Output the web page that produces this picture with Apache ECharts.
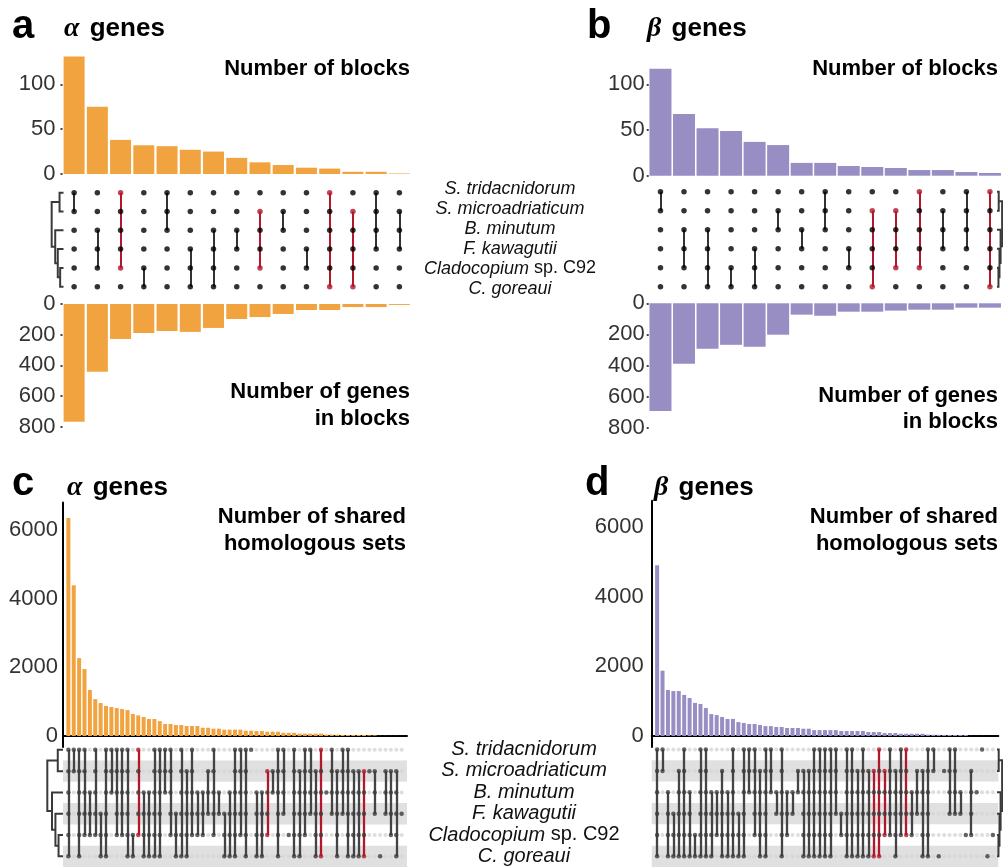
<!DOCTYPE html>
<html>
<head>
<meta charset="utf-8">
<script src="https://cdn.jsdelivr.net/npm/echarts/dist/echarts.min.js"></script>
<style>
  html, body { margin: 0; padding: 0; background: #fff; }
  #chart { width: 1003px; height: 867px; }
</style>
</head>
<body>
<div id="chart"></div>
<script>
// ---- data ----
const species = ['S. tridacnidorum', 'S. microadriaticum', 'B. minutum', 'F. kawagutii', 'Cladocopium sp. C92', 'C. goreaui'];

// a: alpha genes, syntenic blocks (row range of each intersection, 1 = top species)
const alphaBlocks = [131, 75, 38, 32, 31, 27, 25, 18, 13, 10, 7, 6, 2.5, 2.5, 0.6];
const alphaGenes = [767, 441, 228, 189, 176, 182, 156, 98, 85, 65, 39, 39, 20, 20, 6];
const alphaBlockSets = ['1-2', '3-5', '1-5', '5-6', '1-3', '4-6', '3-6', '3-4', '2-5', '2-3', '4-5', '1-6', '2-6', '1-4', '2-4'];
const alphaBlockRed = [2, 8, 11, 12];

// b: beta genes, syntenic blocks
const betaBlocks = [117, 67.5, 52, 49, 37, 33.5, 14, 14, 10.6, 9.5, 8.4, 6.2, 6.2, 4, 3];
const betaGenes = [692, 389, 292, 267, 280, 202, 73, 80, 54, 54, 47, 41, 41, 28, 28];
const betaBlockSets = ['1-2', '3-5', '3-6', '5-6', '4-6', '2-3', '3-4', '1-3', '4-5', '2-6', '2-5', '1-5', '2-4', '1-4', '1-6'];
const betaBlockRed = [9, 10, 11, 14];

// c: alpha genes, shared homologous sets
const alphaShared = [6350, 4390, 2270, 1950, 1340, 1075, 960, 875, 845, 815,
  785, 755, 640, 600, 555, 495, 495, 435, 350, 350,
  320, 320, 290, 290, 290, 240, 240, 215, 215, 185,
  185, 185, 185, 155, 155, 145, 145, 125, 125, 125,
  95, 95, 95, 70, 70, 70, 70, 70, 40, 40,
  40, 30, 30, 30, 30, 30, 20, 20, 4, 4, 3, 3, 2];
const alphaSharedSets = ['1-6', '1-2', '1-6', '1-5', '3-5', '1-5', '4-6', '1-6', '1-3', '1-5',
  '1-5', '1-6', '5-6', '1-5', '3-6', '3-6', '1-6', '1-6', '1-3', '1-5',
  '4-6', '1-6', '2-6', '1-5', '3-5', '3-5', '2-4', '1-5', '3-4', '4-6',
  '3-6', '1-6', '1-5', '1-6', '1-1', '3-6', '3-6', '2-5', '2-3', '1-6',
  '1-4', '5-5', '1-6', '2-6', '1-5', '1-4', '2-6', '1-6', '3-3', '1-4',
  '2-6', '1-4', '1-6', '2-6', '2-6', '2-6', '2-2', '2-4', '6-6', '2-4',
  '2-5', '2-6', '4-4'];
const alphaSharedRed = [13, 37, 47, 55];

// d: beta genes, shared homologous sets
const betaShared = [4900, 1875, 1320, 1290, 1290, 1180, 1090, 950, 920, 805,
  630, 600, 545, 490, 490, 400, 375, 345, 345, 315,
  285, 285, 260, 260, 230, 230, 230, 210, 210, 170,
  170, 170, 170, 170, 145, 145, 145, 145, 145, 115,
  115, 115, 85, 85, 85, 65, 65, 65, 65, 65,
  40, 35, 35, 30, 30, 30, 30, 30, 4, 3, 3, 2, 2];
const betaSharedSets = ['1-6', '1-2', '3-6', '4-6', '2-6', '1-6', '3-6', '5-6', '1-6', '1-6',
  '3-6', '3-5', '2-6', '3-6', '1-6', '4-6', '1-6', '1-3', '1-5', '2-6',
  '1-6', '1-3', '3-4', '1-6', '3-5', '3-4', '2-3', '2-6', '2-6', '1-6',
  '1-6', '1-6', '1-6', '1-4', '4-5', '1-6', '1-6', '2-6', '1-6', '2-6',
  '2-6', '1-6', '2-5', '1-5', '2-6', '1-5', '1-5', '3-5', '2-4', '2-6',
  '1-6', '1-2', '6-6', '2-2', '1-4', '1-4', '3-4', '5-5', '2-5', '3-3',
  '1-1', '6-6', '5-5'];
const betaSharedRed = [40, 41, 42, 46];

// species tree: merge heights of the internal nodes, leaves are row numbers
const speciesTree = { h: 3, kids: [{ h: 1, kids: [1, 2] }, { h: 2.1, kids: [3, { h: 1.45, kids: [4, { h: 0.85, kids: [5, 6] }] }] }] };

// ---- styling ----
const FONT = '"Liberation Sans", Arial, Helvetica, sans-serif';
const ORANGE = '#f1a340';
const PURPLE = '#998ec3';
const RED = '#b2182b';

const grids = [], xAxes = [], yAxes = [], series = [];

function addGrid(rect, xAxis, yAxis) {
  const g = grids.length;
  grids.push(rect);
  xAxes.push(Object.assign({ gridIndex: g, type: 'value', show: false, splitLine: { show: false } }, xAxis));
  yAxes.push(Object.assign({ gridIndex: g, type: 'value', show: false, splitLine: { show: false } }, yAxis));
  return g;
}

function tickLabels(margin, hide) {
  return {
    show: true, fontSize: 22, color: '#333', fontFamily: FONT, margin: margin,
    formatter: v => (v === hide ? '' : String(v))
  };
}

function countAxis(max, interval, inverse, margin) {
  return {
    show: true, min: 0, max: max, interval: interval, inverse: inverse,
    axisLine: { show: false, onZero: false },
    axisTick: { show: true, length: 2, lineStyle: { color: '#444', width: 2 } },
    axisLabel: Object.assign(tickLabels(margin, max % interval ? max : null), { showMaxLabel: max % interval === 0 })
  };
}

function addBars(g, vals, color, width) {
  series.push({
    type: 'bar', xAxisIndex: g, yAxisIndex: g, silent: true,
    barWidth: width, itemStyle: { color: color },
    data: vals.map((v, i) => [i, v])
  });
}

function addMatrix(g, sets, red, st) {
  const on = [], off = [], segs = [];
  sets.forEach((s, i) => {
    const [t, b] = s.split('-').map(Number);
    const hot = red.includes(i);
    for (let r = 1; r <= 6; r++) {
      if (r >= t && r <= b) {
        on.push({ value: [i, r], itemStyle: { color: hot && (r === t || r === b) ? RED : st.dot } });
      } else {
        off.push([i, r]);
      }
    }
    if (b > t) segs.push({ coords: [[i, t], [i, b]], lineStyle: { color: hot ? RED : st.line } });
  });
  if (st.bands) {
    series.push({
      type: 'line', xAxisIndex: g, yAxisIndex: g, data: [], silent: true,
      markArea: {
        silent: true, itemStyle: { color: '#e0e0e0' },
        data: [2, 4, 6].map(r => [{ xAxis: -1, yAxis: r - 0.5 }, { xAxis: sets.length, yAxis: r + 0.5 }])
      }
    });
  }
  series.push({ type: 'scatter', xAxisIndex: g, yAxisIndex: g, z: 2, silent: true, symbolSize: st.offSize, itemStyle: { color: st.off }, data: off });
  series.push({ type: 'lines', coordinateSystem: 'cartesian2d', xAxisIndex: g, yAxisIndex: g, z: 3, silent: true, lineStyle: { width: st.lw, opacity: 1 }, data: segs });
  series.push({ type: 'scatter', xAxisIndex: g, yAxisIndex: g, z: 4, silent: true, symbolSize: st.size, data: on });
}

function treeLines(node, out) {
  if (typeof node === 'number') return { y: node, h: 0 };
  const [a, b] = node.kids.map(k => treeLines(k, out));
  out.push({ coords: [[a.h, a.y], [node.h, a.y], [node.h, b.y], [b.h, b.y]] });
  return { y: (a.y + b.y) / 2, h: node.h };
}

function addTree(rect, flip) {
  const g = addGrid(rect, { min: 0, max: 3.5, inverse: flip }, { min: 0.5, max: 6.5, inverse: true });
  const segs = [];
  treeLines(speciesTree, segs);
  series.push({
    type: 'lines', coordinateSystem: 'cartesian2d', polyline: true, xAxisIndex: g, yAxisIndex: g, silent: true,
    lineStyle: { color: '#3a3a3a', width: 2, opacity: 1 }, data: segs
  });
}

function addSpeciesLabels(rect, size) {
  addGrid(rect, {}, {
    show: true, type: 'category', data: species, inverse: true,
    axisLine: { show: false, onZero: false }, axisTick: { show: false },
    axisLabel: {
      interval: 0, align: 'center', margin: 0, fontSize: size, fontFamily: FONT, color: '#111',
      formatter: v => v.indexOf(' sp. ') > 0 ? '{i|' + v.split(' sp. ')[0] + '}{n| sp. ' + v.split(' sp. ')[1] + '}' : '{i|' + v + '}',
      rich: {
        i: { fontStyle: 'italic', fontSize: size, fontFamily: FONT, color: '#111' },
        n: { fontSize: size, fontFamily: FONT, color: '#111' }
      }
    }
  });
}

const blockDots = { dot: '#000', line: '#333', off: '#000', offSize: 5.5, size: 5.5, lw: 2, bands: false };
const sharedDots = { dot: '#3c3c3c', line: '#444', off: '#d6d6d6', offSize: 4, size: 4.5, lw: 2.3, bands: true };

// ---- panel a ----
let g = addGrid({ left: 62.5, width: 348.5, top: 48.4, height: 125.6 }, { min: -0.5, max: 14.5 }, countAxis(140, 50, false, 7));
addBars(g, alphaBlocks, ORANGE, 21);
g = addGrid({ left: 62.5, width: 348.5, top: 183.3, height: 112.8 }, { min: -0.5, max: 14.5 }, { min: 0.5, max: 6.5, inverse: true });
addMatrix(g, alphaBlockSets, alphaBlockRed, blockDots);
addTree({ left: 49.7, width: 13.8, top: 183.3, height: 112.8 }, true);
g = addGrid({ left: 62.5, width: 348.5, top: 304, height: 122.7 }, { min: -0.5, max: 14.5 }, countAxis(800, 200, true, 7));
addBars(g, alphaGenes, ORANGE, 21);

// ---- panel b ----
g = addGrid({ left: 648.7, width: 353, top: 47.7, height: 128 }, { min: -0.5, max: 14.5 }, countAxis(140, 50, false, 4));
addBars(g, betaBlocks, PURPLE, 22);
g = addGrid({ left: 648.7, width: 353, top: 182.2, height: 114 }, { min: -0.5, max: 14.5 }, { min: 0.5, max: 6.5, inverse: true });
addMatrix(g, betaBlockSets, betaBlockRed, blockDots);
addTree({ left: 997, width: 13.3, top: 182.2, height: 114 }, false);
g = addGrid({ left: 648.7, width: 353, top: 303.3, height: 124.4 }, { min: -0.5, max: 14.5 }, countAxis(800, 200, true, 4));
addBars(g, betaGenes, PURPLE, 22);

addSpeciesLabels({ left: 510, width: 1, top: 178.5, height: 120 }, 18);

// ---- panel c ----
const sharedLabels = (margin) => Object.assign(tickLabels(margin, null), { customValues: [0, 2000, 4000, 6000] });
g = addGrid({ left: 63, width: 344, top: 502.6, height: 244.4 },
  { show: true, min: -1, max: alphaShared.length, axisLine: { show: true, onZero: true, lineStyle: { color: '#000', width: 2 } },
    axisTick: { show: false }, axisLabel: { show: false } },
  { show: true, min: -320, max: 6800, axisLine: { show: true, onZero: false, lineStyle: { color: '#000', width: 2 } },
    axisTick: { show: false }, axisLabel: sharedLabels(5) });
addBars(g, alphaShared, ORANGE, 4);
g = addGrid({ left: 63, width: 344, top: 739.2, height: 129.6 }, { min: -1, max: alphaSharedSets.length }, { min: 0.5, max: 6.5, inverse: true });
addMatrix(g, alphaSharedSets, alphaSharedRed, sharedDots);
addTree({ left: 44.7, width: 18.3, top: 739.2, height: 129.6 }, true);

// ---- panel d ----
g = addGrid({ left: 651.7, width: 346.6, top: 500.7, height: 246.3 },
  { show: true, min: -1, max: betaShared.length, axisLine: { show: true, onZero: true, lineStyle: { color: '#000', width: 2 } },
    axisTick: { show: false }, axisLabel: { show: false } },
  { show: true, min: -315, max: 6750, axisLine: { show: true, onZero: false, lineStyle: { color: '#000', width: 2 } },
    axisTick: { show: false }, axisLabel: sharedLabels(8) });
addBars(g, betaShared, PURPLE, 4);
g = addGrid({ left: 651.7, width: 346.6, top: 738.9, height: 130.2 }, { min: -1, max: betaSharedSets.length }, { min: 0.5, max: 6.5, inverse: true });
addMatrix(g, betaSharedSets, betaSharedRed, sharedDots);
addTree({ left: 997, width: 13.3, top: 738.9, height: 130.2 }, false);

addSpeciesLabels({ left: 524, width: 1, top: 738.9, height: 130 }, 20);

// ---- text ----
function txt(s, x, y, size, align, extra) {
  return {
    type: 'text', silent: true,
    style: Object.assign({ text: s, x: x, y: y, fill: '#000', fontSize: size, fontWeight: 'bold', fontFamily: FONT, align: align, verticalAlign: 'middle' }, extra || {})
  };
}
const greek = { g: { fontFamily: '"Liberation Serif", "Times New Roman", serif', fontStyle: 'italic', fontWeight: 'bold', fontSize: 28, fill: '#000', padding: [0, 3, 0, 0] } };

const graphics = [
  txt('a', 12, 27, 40, 'left'),
  txt('b', 587, 27, 40, 'left'),
  txt('c', 12, 484, 40, 'left'),
  txt('d', 585, 484, 40, 'left'),
  txt('{g|α} genes', 64, 29, 26, 'left', { rich: greek }),
  txt('{g|β} genes', 647, 29, 26, 'left', { rich: greek }),
  txt('{g|α} genes', 67, 488, 26, 'left', { rich: greek }),
  txt('{g|β} genes', 654, 488, 26, 'left', { rich: greek }),
  txt('Number of blocks', 410, 69, 22, 'right'),
  txt('Number of blocks', 998, 69, 22, 'right'),
  txt('Number of genes', 410, 392, 22, 'right'),
  txt('in blocks', 410, 419, 22, 'right'),
  txt('Number of genes', 998, 396, 22, 'right'),
  txt('in blocks', 998, 422, 22, 'right'),
  txt('Number of shared', 406, 517, 22, 'right'),
  txt('homologous sets', 406, 544, 22, 'right'),
  txt('Number of shared', 998, 517, 22, 'right'),
  txt('homologous sets', 998, 544, 22, 'right')
];

const chart = echarts.init(document.getElementById('chart'));
chart.setOption({
  animation: false,
  backgroundColor: '#fff',
  textStyle: { fontFamily: FONT },
  grid: grids,
  xAxis: xAxes,
  yAxis: yAxes,
  series: series,
  graphic: graphics
});
</script>
</body>
</html>
